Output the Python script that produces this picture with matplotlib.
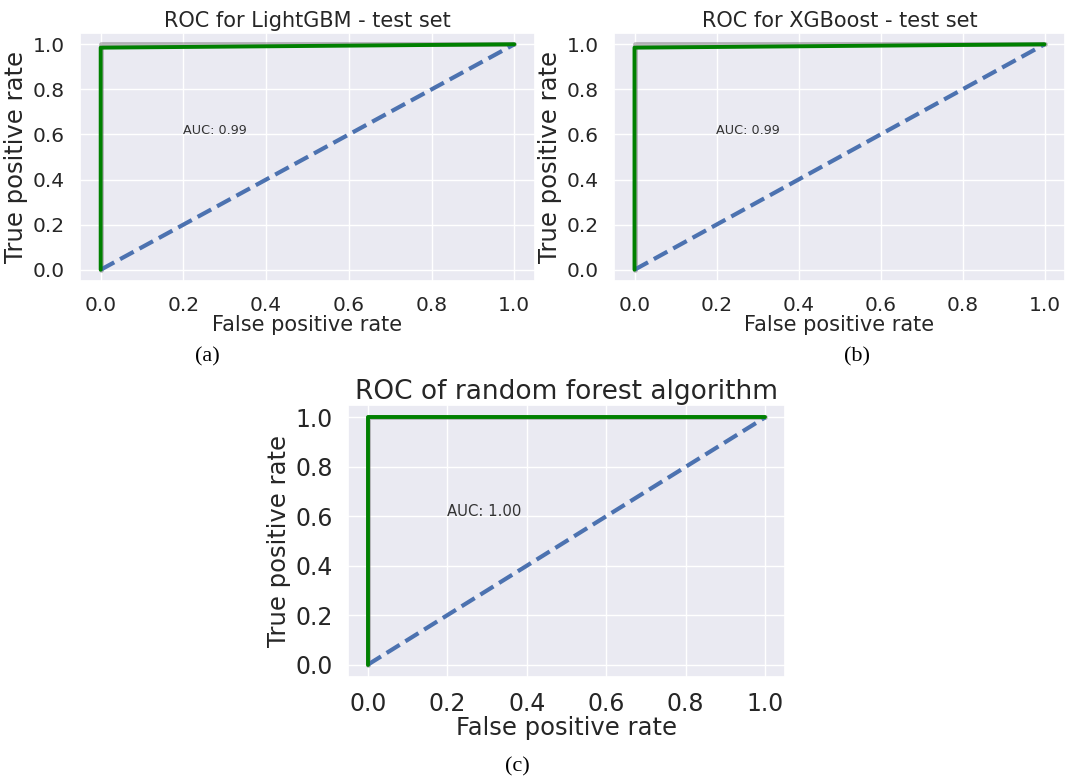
import matplotlib
matplotlib.use("Agg")
import matplotlib.pyplot as plt
import seaborn as sns

sns.set_theme(style="darkgrid")
plt.rcParams['font.family'] = ['DejaVu Sans']

# Data
titles = ["ROC for LightGBM - test set", "ROC for XGBoost - test set", "ROC of random forest algorithm"]
captions = ["(a)", "(b)", "(c)"]
fpr_lgbm = [0.0, 0.0, 1.0]
tpr_lgbm = [0.0, 0.985, 1.0]
fpr_xgb = [0.0, 0.0, 1.0]
tpr_xgb = [0.0, 0.985, 1.0]
fpr_rf = [0.0, 0.0, 1.0]
tpr_rf = [0.0, 1.0, 1.0]
ideal_fpr = [0.0, 0.0, 1.0]
ideal_tpr = [0.0, 1.0, 1.0]
chance = [0.0, 1.0]
auc_texts = ["AUC: 0.99", "AUC: 0.99", "AUC: 1.00"]
ticks = [0.0, 0.2, 0.4, 0.6, 0.8, 1.0]

W, H = 1067, 780
fig = plt.figure(figsize=(W / 100, H / 100), dpi=100)
fig.patch.set_facecolor("white")

def frac(l, r, t, b):
    return [l / W, 1 - b / H, (r - l) / W, (b - t) / H]

positions = [frac(80, 535, 33, 281), frac(614, 1065, 33, 281), frac(348, 785, 405, 677)]
curves = [(fpr_lgbm, tpr_lgbm), (fpr_xgb, tpr_xgb), (fpr_rf, tpr_rf)]
sizes = [dict(title=15, xl=15, yl=17.5, tick=14.5, auc=9.2),
         dict(title=15, xl=15, yl=17.5, tick=14.5, auc=9.2),
         dict(title=19, xl=17.5, yl=17.5, tick=17, auc=10.7)]

for i in range(3):
    ax = fig.add_axes(positions[i])
    s = sizes[i]
    ax.plot(ideal_fpr, ideal_tpr, color="#555555", lw=3.4, alpha=0.4, zorder=2)
    ax.plot(chance, chance, color="#4c72b0", lw=3, linestyle="--", zorder=3)
    ax.plot(curves[i][0], curves[i][1], color="green", lw=2.8, zorder=4)
    ax.set_xlim(-0.05, 1.05)
    ax.set_ylim(-0.05, 1.05)
    ax.set_xticks(ticks)
    ax.set_yticks(ticks)
    ax.tick_params(labelsize=s['tick'], colors="#262626", pad=5)
    ax.set_title(titles[i], fontsize=s['title'], color="#262626", pad=4)
    ax.set_xlabel("False positive rate", fontsize=s['xl'], color="#262626", labelpad=0)
    ax.set_ylabel("True positive rate", fontsize=s['yl'], color="#262626", labelpad=3)
    ax.text(0.2, 0.6, auc_texts[i], fontsize=s['auc'], color="#333333")

fig.text(207 / W, 1 - 357 / H, captions[0], ha="center", va="center",
         fontsize=16, family="Liberation Serif", color="black")
fig.text(857 / W, 1 - 357 / H, captions[1], ha="center", va="center",
         fontsize=16, family="Liberation Serif", color="black")
fig.text(517 / W, 1 - 767 / H, captions[2], ha="center", va="center",
         fontsize=16, family="Liberation Serif", color="black")

fig.savefig("out.png", dpi=100)
